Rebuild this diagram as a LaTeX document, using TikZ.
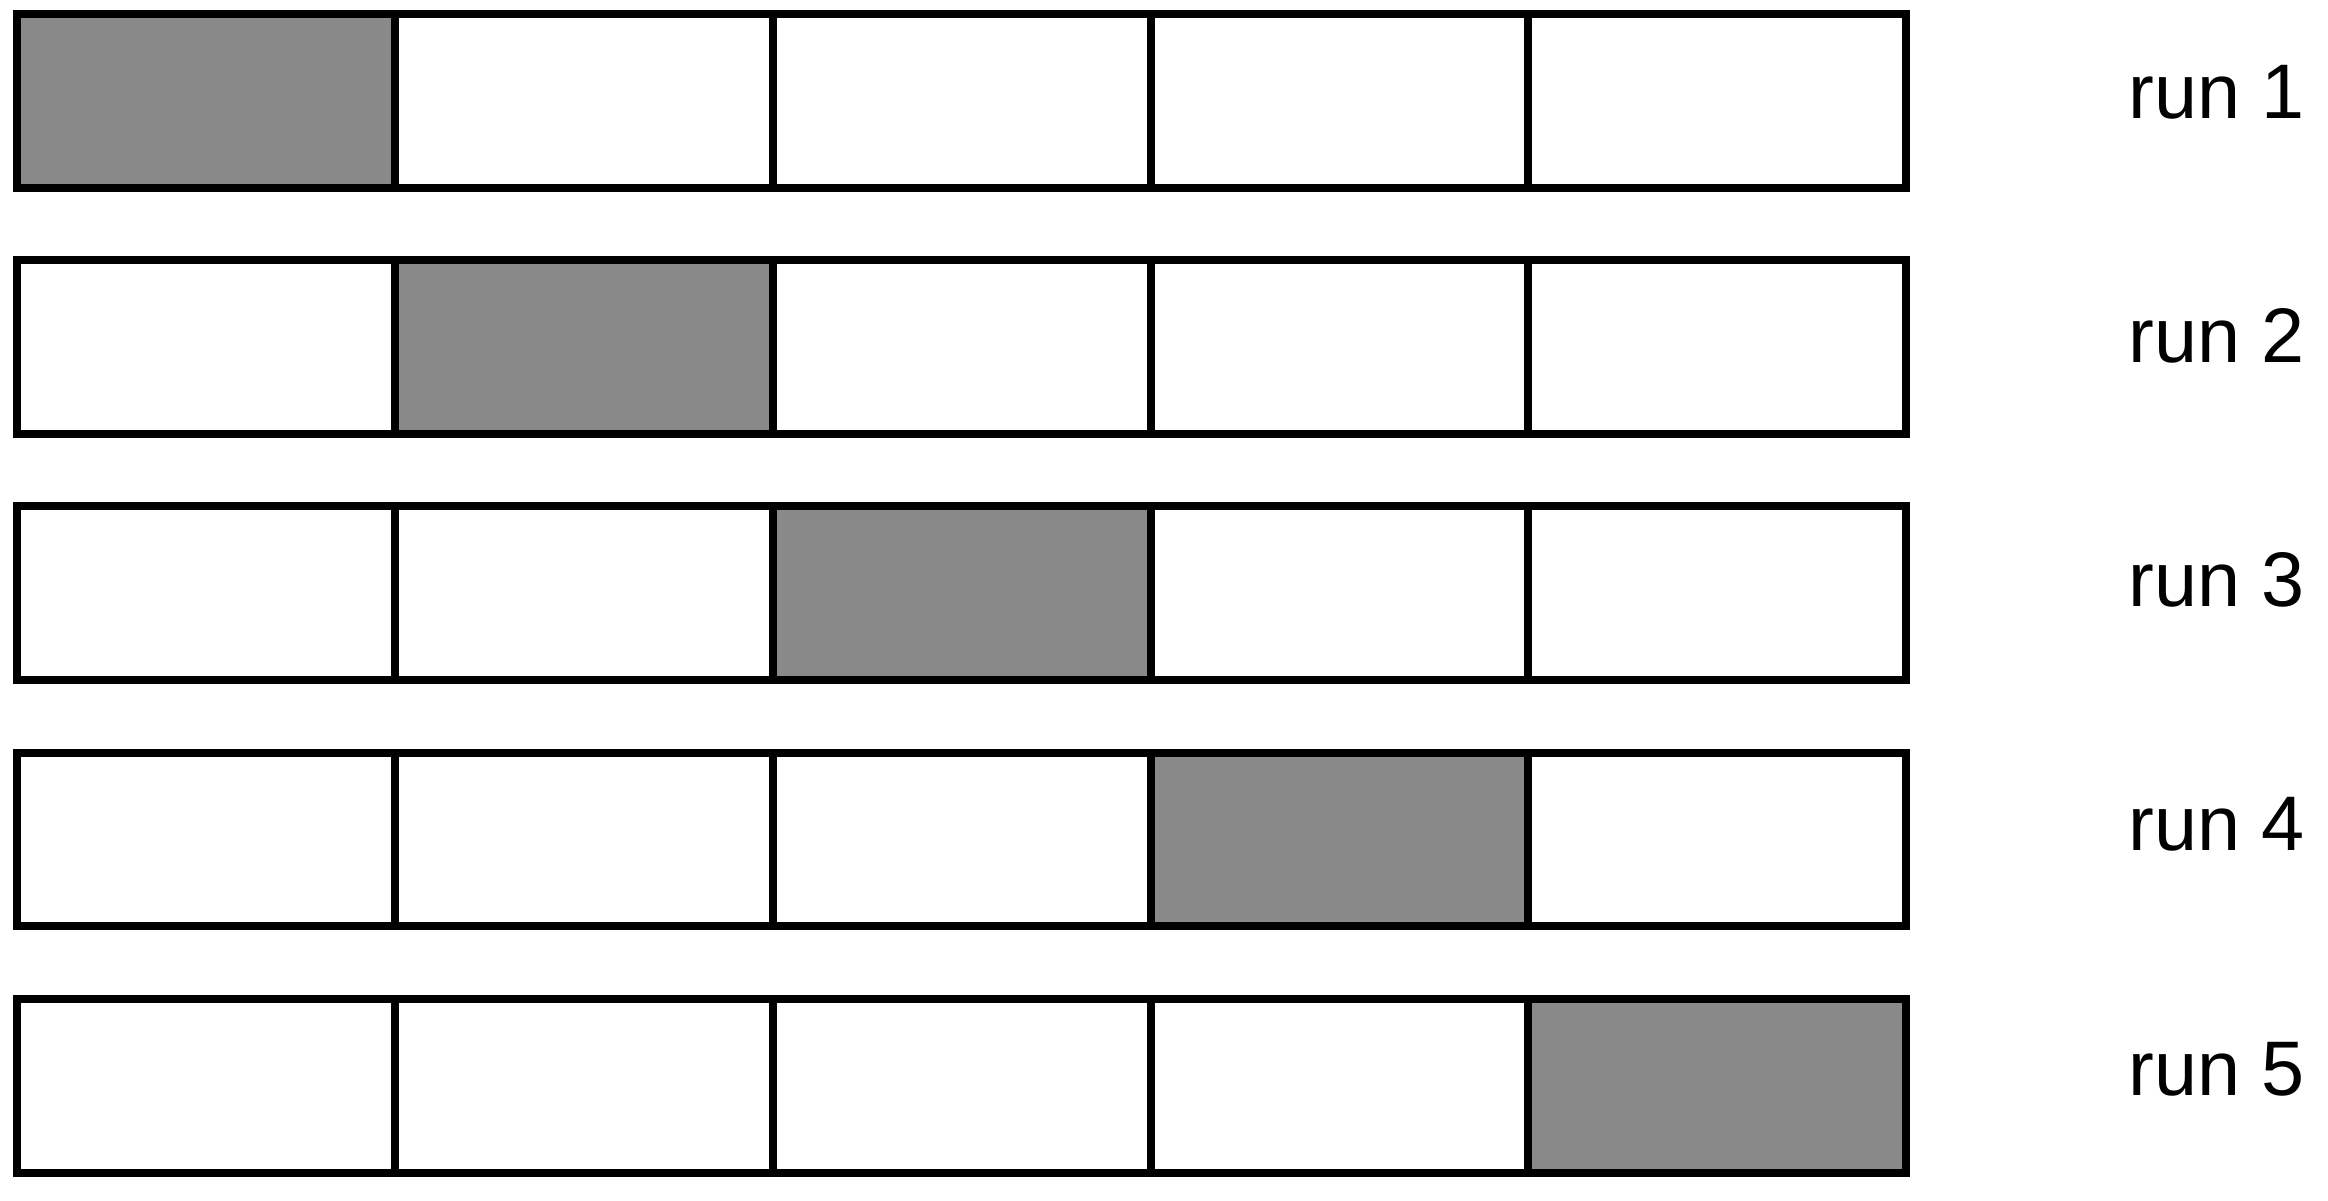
\documentclass[tikz,border=0pt]{standalone}
\usepackage{fontspec}
\setmainfont{Liberation Sans}
\definecolor{cellgray}{RGB}{137,137,137}
\begin{document}
\begin{tikzpicture}[x=0.01cm,y=-0.01cm,
  cell/.style={draw=black, line width=0.08cm, fill=white, minimum width=3.777cm, minimum height=1.735cm, inner sep=0pt, outer sep=0pt},
  shaded/.style={cell, fill=cellgray},
  runlabel/.style={anchor=base west, inner sep=0pt, font=\fontsize{22}{26}\selectfont}]
\useasboundingbox (0,0) rectangle (2328,1200);
\foreach \i in {0,...,4}{
  \foreach \j in {0,...,4}{
    \ifnum\i=\j
      \node[shaded] (c-\i-\j) at ({206.35+377.7*\j},{100.75+246.25*\i}) {};
    \else
      \node[cell] (c-\i-\j) at ({206.35+377.7*\j},{100.75+246.25*\i}) {};
    \fi
  }
  \pgfmathtruncatemacro{\k}{\i+1}
  \node[runlabel] (run-\k) at (2128,{118+244.25*\i}) {run \k};
}
\end{tikzpicture}
\end{document}
